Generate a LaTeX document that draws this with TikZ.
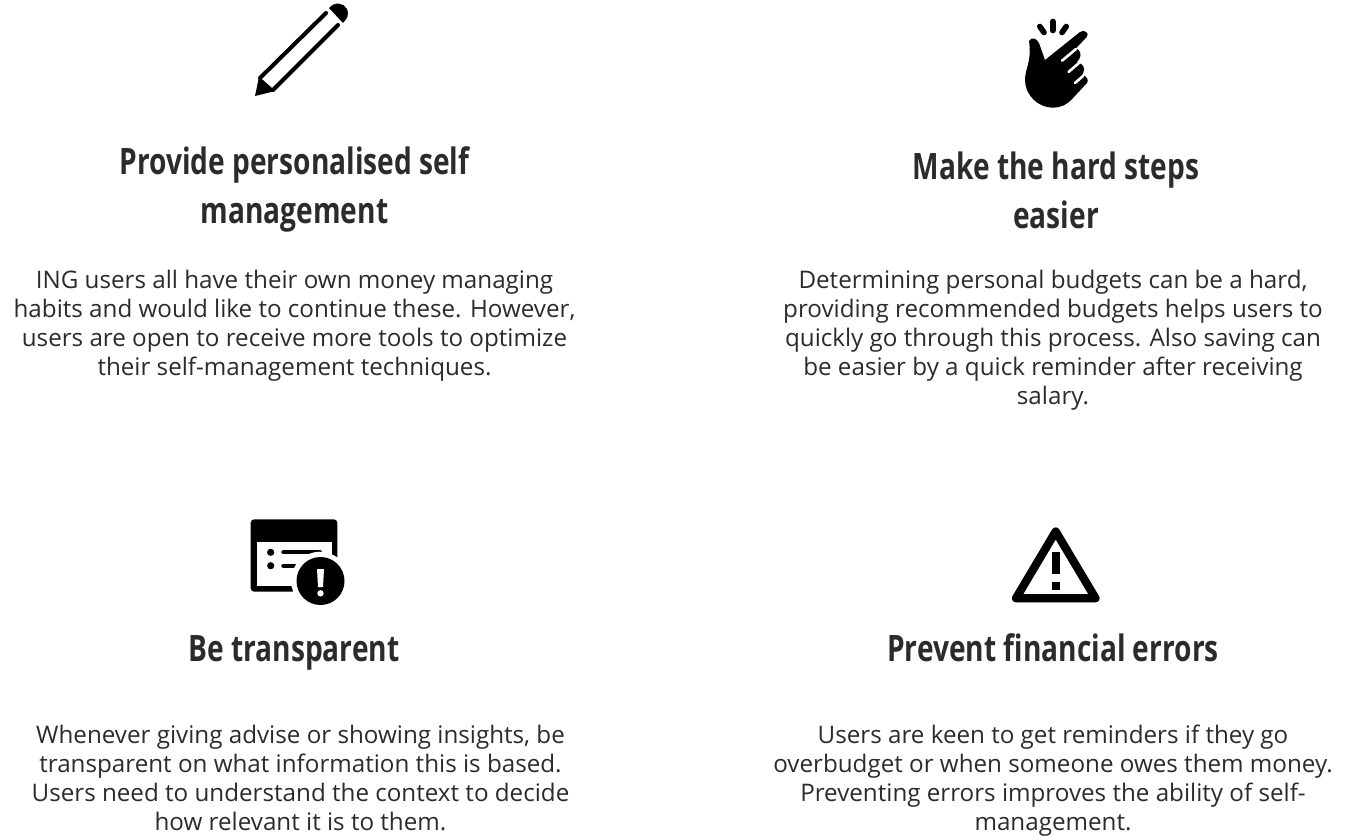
\documentclass[tikz,border=0pt]{standalone}
\usepackage{fontspec}
\usepackage{xcolor}
\setmainfont{Open Sans}
\newfontfamily\headfont[FakeStretch=0.773]{Open Sans}
\definecolor{textgrey}{HTML}{2B2B2B}
\tikzset{
  headtext/.style={align=center, inner sep=0pt, text=textgrey, font=\headfont\bfseries\fontsize{20.7}{27.8}\selectfont},
  bodytext/.style={align=center, inner sep=0pt, text=textgrey, font=\fontsize{13.77}{16.44}\selectfont},
  iconline/.style={draw=black, line width=2.3pt, line cap=round}
}
\begin{document}
\begin{tikzpicture}[x=0.02cm,y=-0.02cm]
\useasboundingbox (0,0) rectangle (1355,836);
% pencil
\draw[iconline] (260,78) -- (326,13);
\draw[iconline] (273,90) -- (338,25);
\fill (329,8) .. controls (335,1) and (344,3) .. (347,9) .. controls (349,14) and (348,18) .. (343,23) -- cycle;
\fill (255,96) -- (259,77) -- (263,80) -- (272,88) -- (275,91) -- cycle;
% hand
\draw[black, line width=3.2pt, line cap=round] (1039.8,26.5) -- (1044,32.5);
\draw[black, line width=3.2pt, line cap=round] (1052.7,21.5) -- (1052.7,30.5);
\draw[black, line width=3.2pt, line cap=round] (1066.2,26.5) -- (1062,32.5);
\fill (1029,41) .. controls (1032,36) and (1037,39) .. (1039,43) -- (1045,60) -- (1080,32) .. controls (1084,29) and (1090,33) .. (1086.7,37) -- (1076,48.3) .. controls (1080,50) and (1082,54) .. (1079.3,59) -- (1077,62) .. controls (1083,64) and (1086,68) .. (1083,73) -- (1082,75) .. controls (1087,76) and (1089,80) .. (1087,83) -- (1073,98) .. controls (1067,105) and (1060,107.7) .. (1053,107.7) .. controls (1038,107.7) and (1025,95) .. (1025,80) .. controls (1025,68) and (1032,62) .. (1029,41) -- cycle;
\draw[white, line width=1.5pt, line cap=round] (1062,60.7) -- (1076,49);
\draw[white, line width=1.5pt, line cap=round] (1068.5,72) -- (1079.5,62.5);
\draw[white, line width=1.5pt, line cap=round] (1075,83) -- (1083,76);
% window with alert
\fill[rounded corners=2pt] (250.7,591.7) -- (250.7,519.3) -- (337.3,519.3) -- (337.3,591.7) -- cycle;
\fill[white] (256.7,541.7) rectangle (331.7,586);
\fill (270.7,552.3) circle (3.6);
\fill (270.7,565.7) circle (3.6);
\draw[iconline] (283.3,552.3) -- (320,552.3);
\draw[iconline] (283.3,565.7) -- (320,565.7);
\fill[white] (320,580.7) circle (29);
\fill (320.5,581) circle (24);
\fill[white] (317,569) -- (324,569) -- (323,587) -- (318,587) -- cycle;
\fill[white] (320.5,593.3) circle (3.2);
% warning triangle
\draw[black, line width=4.7pt, line join=round] (1055.7,531.5) -- (1095.5,598.2) -- (1016,598.2) -- cycle;
\fill (1051.7,552.3) rectangle (1060,574.3);
\fill (1051.7,581.7) rectangle (1060,590);
% texts
\node[headtext] (headself) at (294.5,189.5) {Provide personalised self\\management};
\node[headtext] (headhard) at (1056,190.5) {Make the hard steps\\easier};
\node[headtext] (headclear) at (294,652.5) {Be transparent};
\node[headtext] (headerror) at (1053,648) {Prevent financial errors};
\node[bodytext] (bodyself) at (294.5,325.5) {ING users all have their own money managing\\habits and would like to continue these. However,\\users are open to receive more tools to optimize\\their self-management techniques.};
\node[bodytext] (bodyhard) at (1053,340) {Determining personal budgets can be a hard,\\providing recommended budgets helps users to\\quickly go through this process. Also saving can\\be easier by a quick reminder after receiving\\salary.};
\node[bodytext] (bodyclear) at (300.5,778) {Whenever giving advise or showing insights, be\\transparent on what information this is based.\\Users need to understand the context to decide\\how relevant it is to them.};
\node[bodytext] (bodyerror) at (1053,780.5) {Users are keen to get reminders if they go\\overbudget or when someone owes them money.\\Preventing errors improves the ability of self-\\management.};
\end{tikzpicture}
\end{document}
